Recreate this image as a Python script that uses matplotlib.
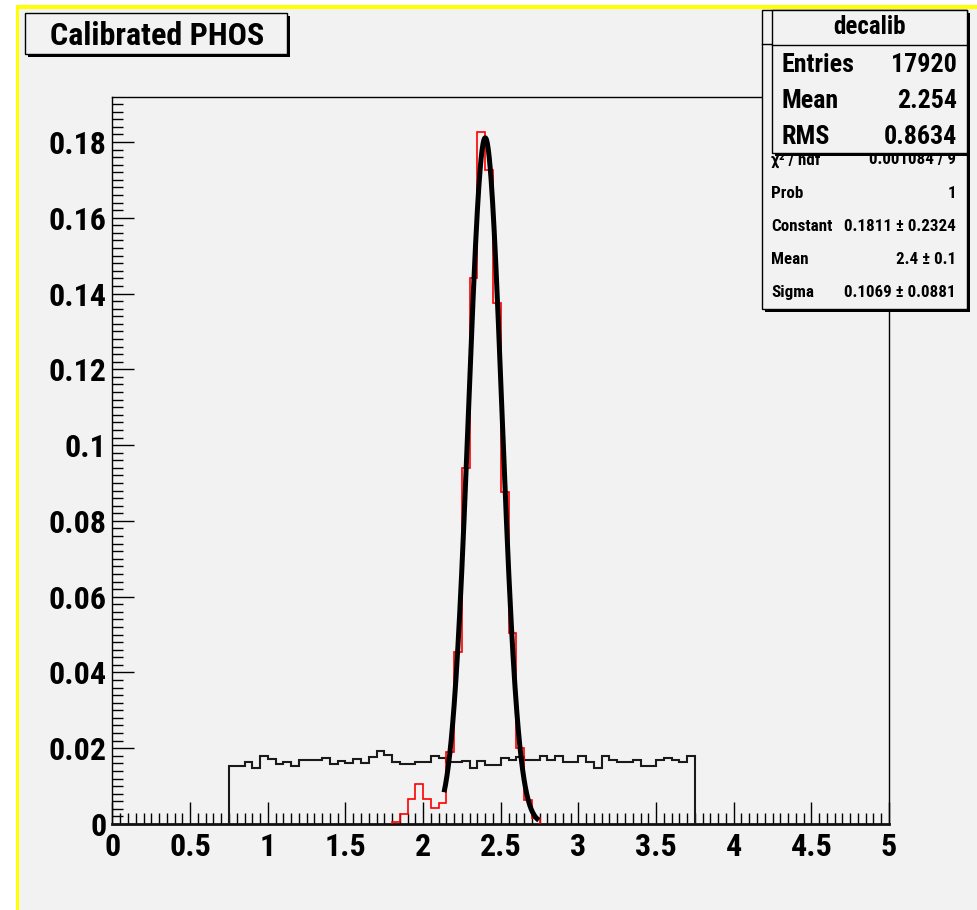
import numpy as np
import matplotlib
matplotlib.use("Agg")
import matplotlib.pyplot as plt
from matplotlib.patches import Rectangle
from matplotlib.lines import Line2D
from matplotlib.ticker import MultipleLocator, FixedLocator

# ---------------- data ----------------
title_text = "Calibrated PHOS"

black_edges = np.round(np.arange(0.75, 3.75 + 1e-9, 0.05), 2)
black_counts = [0.0153, 0.0153, 0.0163, 0.0147, 0.0179, 0.0171, 0.0158, 0.0163, 0.0153, 0.0169,
                0.0169, 0.0169, 0.0173, 0.0158, 0.0166, 0.0162, 0.0171, 0.0162, 0.0176, 0.0193,
                0.0182, 0.0164, 0.0158, 0.0158, 0.0164, 0.0164, 0.0179, 0.0173, 0.0164, 0.0163,
                0.0166, 0.0147, 0.0166, 0.0156, 0.0156, 0.0173, 0.0169, 0.0176, 0.0169, 0.0169,
                0.0179, 0.0169, 0.0179, 0.0163, 0.0163, 0.0179, 0.0164, 0.0147, 0.0179, 0.0169,
                0.0163, 0.0163, 0.0169, 0.0153, 0.0153, 0.0169, 0.0173, 0.0169, 0.0163, 0.0179]

red_edges = np.round(np.arange(1.80, 2.75 + 1e-9, 0.05), 2)
red_counts = [0.0005, 0.0026, 0.0065, 0.0106, 0.0065, 0.0041, 0.0056, 0.0189, 0.0455, 0.0939,
              0.1440, 0.1827, 0.1726, 0.1374, 0.0877, 0.0505, 0.0200, 0.0063, 0.0016]

fit_const = 0.1811
fit_mean = 2.4
fit_sigma = 0.1069
fit_range = (2.135, 2.745)

x_ticks = [0, 0.5, 1, 1.5, 2, 2.5, 3, 3.5, 4, 4.5, 5]
x_tick_labels = ["0", "0.5", "1", "1.5", "2", "2.5", "3", "3.5", "4", "4.5", "5"]
y_ticks = [0, 0.02, 0.04, 0.06, 0.08, 0.1, 0.12, 0.14, 0.16, 0.18]
y_tick_labels = ["0", "0.02", "0.04", "0.06", "0.08", "0.1", "0.12", "0.14", "0.16", "0.18"]

hist_name = "decalib"
stats_main = [("Entries", "17920"), ("Mean", "2.254"), ("RMS", "0.8634")]
stats_fit = [("\u03c7\u00b2 / ndf", "0.001084 / 9"), ("Prob", "1"),
             ("Constant", "0.1811 \u00b1 0.2324"), ("Mean", "2.4 \u00b1 0.1"),
             ("Sigma", "0.1069 \u00b1 0.0881")]

# ---------------- layout helpers ----------------
W, H = 978, 910
DPI = 100
BG = "#f2f2f2"
FONT = ["Roboto Condensed", "Liberation Sans Narrow", "Liberation Sans", "DejaVu Sans"]


def fx(x):
    return x / W


def fy(y):
    return 1 - y / H


def pt(px):
    return px * 72.0 / DPI


fig = plt.figure(figsize=(W / DPI, H / DPI), dpi=DPI, facecolor="white")

# canvas background + yellow frame
fig.add_artist(Rectangle((fx(19), fy(H)), fx(W - 19), (H - 9) / H, transform=fig.transFigure,
                         facecolor=BG, edgecolor="none", zorder=-10))
fig.add_artist(Rectangle((fx(16), fy(9)), fx(W - 16), 4 / H, transform=fig.transFigure,
                         facecolor="#ffff00", edgecolor="none", zorder=-9))
fig.add_artist(Rectangle((fx(16), fy(H)), fx(3), (H - 5) / H, transform=fig.transFigure,
                         facecolor="#ffff00", edgecolor="none", zorder=-9))

# ---------------- axes ----------------
x_left, x_right, y_top, y_bot = 112.5, 889.0, 97.0, 824.0
ax = fig.add_axes([fx(x_left), fy(y_bot), (x_right - x_left) / W, (y_bot - y_top) / H])
ax.set_facecolor(BG)
ax.set_xlim(0, 5)
ax.set_ylim(0, 0.19187)

ax.stairs(black_counts, black_edges, baseline=0, color="#1a1a1a", linewidth=1.5, zorder=3)
ax.stairs(red_counts, red_edges, baseline=0, color="#ff0000", linewidth=1.2, zorder=4)

xf = np.linspace(fit_range[0], fit_range[1], 200)
yf = fit_const * np.exp(-0.5 * ((xf - fit_mean) / fit_sigma) ** 2)
ax.plot(xf, yf, color="black", linewidth=3.6, zorder=5, solid_capstyle="butt")

for s in ["left", "top", "right"]:
    ax.spines[s].set_linewidth(1.0)
    ax.spines[s].set_color("black")
ax.spines["bottom"].set_linewidth(2.0)
ax.spines["bottom"].set_color("#111111")

ax.xaxis.set_major_locator(FixedLocator(x_ticks))
ax.xaxis.set_minor_locator(MultipleLocator(0.05))
ax.yaxis.set_major_locator(FixedLocator(y_ticks))
ax.yaxis.set_minor_locator(MultipleLocator(0.002))
ax.set_xticklabels(x_tick_labels)
ax.set_yticklabels(y_tick_labels)

ax.tick_params(axis="x", which="major", direction="in", length=pt(22), width=1.0, pad=pt(8),
               labelsize=pt(32))
ax.tick_params(axis="x", which="minor", direction="in", length=pt(11), width=1.0)
ax.tick_params(axis="y", which="major", direction="in", length=pt(22), width=1.0, pad=pt(6),
               labelsize=pt(32))
ax.tick_params(axis="y", which="minor", direction="in", length=pt(11), width=1.0)
for lab in ax.get_xticklabels() + ax.get_yticklabels():
    lab.set_fontweight("bold")
    lab.set_family(FONT)

# ---------------- boxes ----------------
def box(x0, y0, x1, y1, z, shadow=3):
    fig.add_artist(Rectangle((fx(x0 + shadow), fy(y1 + shadow)), (x1 - x0) / W, (y1 - y0) / H,
                             transform=fig.transFigure, facecolor="black", edgecolor="none",
                             zorder=z))
    fig.add_artist(Rectangle((fx(x0), fy(y1)), (x1 - x0) / W, (y1 - y0) / H,
                             transform=fig.transFigure, facecolor=BG, edgecolor="black",
                             linewidth=1.0, zorder=z + 0.1))


def hline(x0, x1, y, z):
    fig.add_artist(Line2D([fx(x0), fx(x1)], [fy(y), fy(y)], transform=fig.transFigure,
                          color="black", linewidth=1.0, zorder=z))


box(25, 13, 287, 54, 10)
fig.text(fx(157), fy(36), title_text, ha="center", va="center", fontsize=pt(32),
         fontweight="bold", family=FONT, zorder=11)

# fit stat box (outer, partly hidden by the histogram box)
box(762, 10, 967, 309, 20)
hline(762, 967, 44, 20.5)
row_h = (309 - 44) / 8
for i, (k, v) in enumerate(stats_fit):
    yc = 44 + row_h * (i + 3 + 0.5)
    fig.text(fx(771), fy(yc), k, ha="left", va="center", fontsize=pt(17),
             fontweight="bold", family=FONT, zorder=21)
    fig.text(fx(956), fy(yc), v, ha="right", va="center", fontsize=pt(17),
             fontweight="bold", family=FONT, zorder=21)

# histogram stat box (inner)
box(772.5, 10, 967, 153, 30)
hline(772.5, 967, 45, 30.5)
fig.text(fx(870), fy(27), hist_name, ha="center", va="center", fontsize=pt(25),
         fontweight="bold", family=FONT, zorder=31)
row_h2 = (153 - 45) / len(stats_main)
for i, (k, v) in enumerate(stats_main):
    yc = 45 + row_h2 * (i + 0.5) + 2
    fig.text(fx(782), fy(yc), k, ha="left", va="center", fontsize=pt(26),
             fontweight="bold", family=FONT, zorder=31)
    fig.text(fx(957), fy(yc), v, ha="right", va="center", fontsize=pt(26),
             fontweight="bold", family=FONT, zorder=31)

fig.savefig("out.png", dpi=DPI, facecolor="white")
